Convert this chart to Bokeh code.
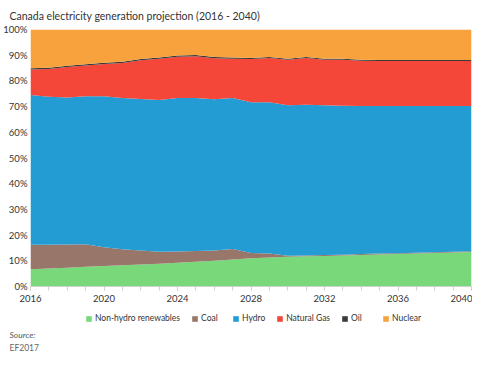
from bokeh.plotting import figure
from bokeh.layouts import column
from bokeh.models import (ColumnDataSource, SingleIntervalTicker, FixedTicker,
                          PrintfTickFormatter, Title, Range1d)
from bokeh.embed import file_html
from bokeh.resources import INLINE

years = list(range(2016, 2041))
non_hydro = [6.7, 7.0, 7.3, 7.7, 8.0, 8.3, 8.6, 8.9, 9.2, 9.6, 10.0, 10.5, 11.0, 11.3, 11.6,
             11.8, 11.9, 12.1, 12.3, 12.5, 12.6, 12.8, 13.0, 13.2, 13.4]
coal = [9.5, 9.2, 9.0, 8.7, 7.3, 6.2, 5.4, 4.6, 4.4, 4.2, 4.0, 4.1, 2.0, 1.5, 0.4,
        0.3, 0.4, 0.3, 0.3, 0.3, 0.3, 0.3, 0.3, 0.3, 0.3]
hydro = [58.3, 57.6, 57.2, 57.6, 58.7, 58.8, 59.0, 59.1, 59.7, 59.5, 58.9, 58.7, 58.7, 58.9, 58.5,
         58.6, 58.2, 57.9, 57.6, 57.4, 57.3, 57.1, 56.9, 56.7, 56.5]
natural_gas = [9.9, 10.8, 11.9, 12.0, 12.6, 13.7, 15.0, 16.0, 16.1, 16.3, 15.9, 15.3, 16.8, 17.2, 17.7,
               18.2, 17.7, 17.9, 17.6, 17.5, 17.5, 17.5, 17.5, 17.5, 17.5]
oil = [0.5, 0.5, 0.5, 0.5, 0.5, 0.5, 0.5, 0.5, 0.5, 0.5, 0.5, 0.5, 0.4, 0.4, 0.4,
       0.4, 0.4, 0.4, 0.4, 0.4, 0.4, 0.4, 0.4, 0.4, 0.4]
nuclear = [round(100 - a - b - c - d - e, 2) for a, b, c, d, e in zip(non_hydro, coal, hydro, natural_gas, oil)]

series = ["Non-hydro renewables", "Coal", "Hydro", "Natural Gas", "Oil", "Nuclear"]
keys = ["non_hydro", "coal", "hydro", "natural_gas", "oil", "nuclear"]
colors = ["#78D87A", "#98766A", "#239CD3", "#F44639", "#3A3A3A", "#F8A23E"]
y_ticks = list(range(0, 101, 10))

source = ColumnDataSource(dict(year=years, non_hydro=non_hydro, coal=coal, hydro=hydro,
                               natural_gas=natural_gas, oil=oil, nuclear=nuclear))

FONT = "Lato"
TEXT = "#333333"

# ---- main chart ----
p = figure(width=472, height=312, output_backend="svg", toolbar_location=None,
           x_range=Range1d(2016, 2040), y_range=Range1d(0, 100),
           min_border_left=21, min_border_right=1, min_border_top=28, min_border_bottom=26)

p.varea_stack(keys, x="year", source=source, color=colors)

p.title.text = "Canada electricity generation projection (2016 - 2040)"
p.title.text_font = FONT
p.title.text_font_size = "10.5px"
p.title.text_font_style = "normal"
p.title.text_color = TEXT
p.title.align = "left"
p.title.offset = -21
p.title.standoff = 15

p.grid.visible = False
p.outline_line_color = None

xa = p.xaxis[0]
xa.ticker = SingleIntervalTicker(interval=4, num_minor_ticks=4)
xa.axis_line_color = "#d0d0d0"
xa.major_tick_line_color = "#d0d0d0"
xa.minor_tick_line_color = "#d0d0d0"
xa.major_tick_in = 0
xa.major_tick_out = 4
xa.minor_tick_in = 0
xa.minor_tick_out = 4
xa.major_label_text_font = FONT
xa.major_label_text_font_size = "9.5px"
xa.major_label_text_color = TEXT
xa.major_label_standoff = 4

ya = p.yaxis[0]
ya.ticker = FixedTicker(ticks=y_ticks)
ya.formatter = PrintfTickFormatter(format="%d%%")
ya.axis_line_color = None
ya.major_tick_line_color = None
ya.minor_tick_line_color = None
ya.major_tick_in = 0
ya.major_tick_out = 0
ya.minor_tick_in = 0
ya.minor_tick_out = 0
ya.major_label_text_font = FONT
ya.major_label_text_font_size = "9.5px"
ya.major_label_text_color = TEXT
ya.major_label_standoff = 3

# ---- legend + source strip (same series, plotted out of view so only the legend shows) ----
p2 = figure(width=472, height=40, output_backend="svg", toolbar_location=None,
            x_range=Range1d(0, 1), y_range=Range1d(0, 1),
            x_axis_location=None, y_axis_location=None, min_border=0)
p2.grid.visible = False
p2.outline_line_color = None
p2.varea_stack(keys, x="year", source=source, color=colors, legend_label=series)

lg = p2.legend[0]
lg.orientation = "horizontal"
lg.location = (55, 4)
lg.label_text_font = FONT
lg.label_text_font_size = "8.5px"
lg.label_text_color = TEXT
lg.glyph_width = 7
lg.glyph_height = 7
lg.label_standoff = 3
lg.spacing = 11
lg.padding = 0
lg.margin = 0
lg.border_line_color = None
lg.background_fill_alpha = 0

t_src = Title(text="Source:", text_font=FONT, text_font_size="8.5px", text_font_style="italic",
              text_color="#555555", align="left", offset=-21, standoff=1)
t_ef = Title(text="EF2017", text_font=FONT, text_font_size="8.5px", text_font_style="normal",
             text_color="#666666", align="left", offset=-21, standoff=0)
p2.add_layout(t_src, "below")
p2.add_layout(t_ef, "below")

layout = column(p, p2, spacing=0)
open("out.html", "w").write(file_html(layout, INLINE))
